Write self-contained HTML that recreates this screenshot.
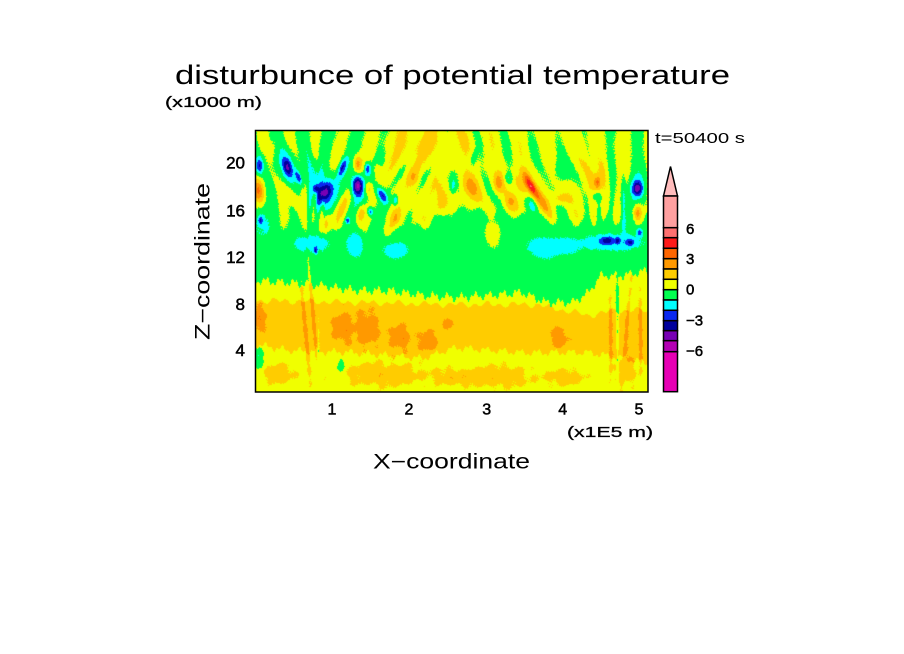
<!DOCTYPE html>
<html><head><meta charset="utf-8">
<style>
html,body{margin:0;padding:0;background:#fff;width:904px;height:654px;overflow:hidden}
#c{position:absolute;left:255px;top:130px;width:393px;height:262px;
background:linear-gradient(to bottom,#f0ff00 0,#f0ff00 90px,#00ff50 90px,#00ff50 155px,#f0ff00 155px,#f0ff00 172px,#ffcc00 172px,#ffcc00 222px,#f0ff00 222px)}
svg{position:absolute;left:0;top:0}
text{font-family:"Liberation Sans",sans-serif;fill:#000}
</style></head><body>
<canvas id="c" width="393" height="262"></canvas>
<svg width="904" height="654" xmlns="http://www.w3.org/2000/svg">
<rect x="255.5" y="130.5" width="392.5" height="261.5" fill="none" stroke="#000" stroke-width="1.5"/>
<text x="452.5" y="84" font-size="27" text-anchor="middle" textLength="555" lengthAdjust="spacingAndGlyphs">disturbunce of potential temperature</text>
<text x="165" y="107" font-size="15" textLength="97" lengthAdjust="spacingAndGlyphs" stroke="#000" stroke-width="0.3">(x1000 m)</text>
<g font-size="17" text-anchor="end" stroke="#000" stroke-width="0.5">
<text x="245" y="168.5">20</text>
<text x="245" y="216.5">16</text>
<text x="245" y="263">12</text>
<text x="245" y="310">8</text>
<text x="245" y="356">4</text>
</g>
<g font-size="16" text-anchor="middle" stroke="#000" stroke-width="0.5">
<text x="332" y="414.5">1</text>
<text x="409" y="414.5">2</text>
<text x="486.7" y="414.5">3</text>
<text x="562.7" y="414.5">4</text>
<text x="639" y="414.5">5</text>
</g>
<text x="567" y="437" font-size="15" textLength="86" lengthAdjust="spacingAndGlyphs" stroke="#000" stroke-width="0.3">(x1E5 m)</text>
<text x="373" y="468.5" font-size="21" textLength="157" lengthAdjust="spacingAndGlyphs">X−coordinate</text>
<text transform="translate(209.5,261.5) rotate(-90)" x="0" y="0" font-size="21" text-anchor="middle" textLength="157" lengthAdjust="spacingAndGlyphs">Z−coordinate</text>
<text x="655" y="143" font-size="14.5" textLength="90" lengthAdjust="spacingAndGlyphs">t=50400 s</text>
<g stroke="#000" stroke-width="1.5">
<polygon points="663.5,196 670.5,166.5 677.5,196" fill="#ffbcbc"/>
<rect x="663.5" y="196" width="14" height="31.7" fill="#ffa0a0"/>
<rect x="663.5" y="227.7" width="14" height="10" fill="#ff7070"/>
<rect x="663.5" y="237.7" width="14" height="10.6" fill="#ff1a1a"/>
<rect x="663.5" y="248.3" width="14" height="10.4" fill="#ff6600"/>
<rect x="663.5" y="258.7" width="14" height="10.3" fill="#ff9900"/>
<rect x="663.5" y="269" width="14" height="10.3" fill="#ffcc00"/>
<rect x="663.5" y="279.3" width="14" height="10.4" fill="#f0ff00"/>
<rect x="663.5" y="289.7" width="14" height="10.3" fill="#00ff50"/>
<rect x="663.5" y="300" width="14" height="10.3" fill="#00ffff"/>
<rect x="663.5" y="310.3" width="14" height="10.4" fill="#0a28f0"/>
<rect x="663.5" y="320.7" width="14" height="10" fill="#00009c"/>
<rect x="663.5" y="330.7" width="14" height="10" fill="#7800b4"/>
<rect x="663.5" y="340.7" width="14" height="11" fill="#b400b4"/>
<rect x="663.5" y="351.7" width="14" height="40" fill="#e600b4"/>
</g>
<g font-size="15" stroke="#000" stroke-width="0.5">
<text x="686" y="234">6</text>
<text x="686" y="264">3</text>
<text x="686" y="294.5">0</text>
<text x="686" y="325.5">−3</text>
<text x="686" y="356">−6</text>
</g>
</svg>
<script>
(function(){
var cv=document.getElementById('c');if(!cv.getContext)return;var ctx=cv.getContext('2d');
var W=393,H=262;
function pl(p,x){for(var i=0;i<p.length-1;i++){if(x<=p[i+1][0]){var t=(x-p[i][0])/(p[i+1][0]-p[i][0]);return p[i][1]+t*(p[i+1][1]-p[i][1]);}}return p[p.length-1][1];}
var E=[[0,150],[33,152],[67,155],[100,160],[133,160],[167,165],[200,167],[233,165],[267,162],[290,172],[317,172],[333,162],[345,145],[367,145],[393,140]];
var T=[[0,170],[100,172],[200,174],[280,174],[300,178],[333,185],[360,180],[393,180]];
var B=[[0,214],[33,220],[100,222],[167,228],[200,217],[267,222],[333,222],[393,232]];
var D=[[0,100],[60,105],[130,108],[170,100],[190,88],[210,85],[240,88],[270,92],[330,97],[360,95],[393,95]];
var K=[[0,0.35],[50,0.2],[70,-0.4],[180,-0.4],[200,0.3],[330,0.4],[360,-0.1],[393,-0.1]];
var U=[[0,-0.05],[125,-0.05],[140,0.45],[210,0.45],[225,0.3],[330,0.3],[360,0.1],[393,0.1]];
var F=[
[170,15,40,18,0,0.7],
// blues
[4,35,4,8,0,-2.8],[32,37,4,9,-15,-2.8],[43,47,2.5,7,-20,-2.6],[60,58,3,4,0,-2.5],[70,62,6,11,25,-3.6],
[87,37,3,10,20,-2.8],[102,55,5,9,0,-4.5],[112,38,3,6,0,-2.6],[127,65,4,9,-30,-3.0],[115,81,3,4,0,-2.5],
[140,70,2.5,5,0,-2.4],[5,90,2.5,4,0,-2.4],[92,90,2,3,0,-2.2],[60,120,2,3,0,-2.2],
[382,58,5,7,0,-3.4],[351,110,6,4,0,-2.2],[362,110,2.5,3,0,-2.0],[375,112,4,3,0,-2.0],[384,102,3,4,0,-2.2],
// cyan
[8,90,7,16,0,-1.3],[32,35,12,22,-15,-1.2],[60,45,8,20,-10,-1.1],[70,62,14,22,25,-1.0],[102,58,11,18,0,-1.0],
[58,113,20,8,0,-1.2],[100,115,8,14,0,-1.2],[140,120,14,8,0,-1.15],[218,28,3,8,10,-1.2],
[198,55,3,8,0,-1.2],[253,48,4,6,0,-1.3],[277,75,4,8,-20,-1.2],[305,40,7,12,-20,-1.3],[293,117,25,10,0,-1.25],
[341,66,6,5,0,-1.2],[358,112,35,8,0,-1.2],[368,70,2.5,30,0,-1.3],[382,60,12,20,0,-1.0],
// warm upper
[3,60,6,12,0,2.6],[38,68,5,15,-25,1.6],[70,93,4,10,10,1.5],[88,75,5,25,20,1.0],[102,33,4,8,0,2.3],
[113,58,4,7,0,1.7],[105,83,4,8,10,1.6],[122,40,4,8,0,1.3],[158,47,5,8,0,1.2],[140,87,4,8,20,1.2],
[215,57,8,12,-20,1.8],[243,52,5,10,0,2.0],[265,55,5,12,-25,1.8],[275,55,4,14,-28,4.4],[255,72,6,8,0,1.4],
[288,73,4,14,-25,1.6],[305,68,10,6,0,1.3],[340,47,8,20,-10,1.3],[342,52,3,6,0,2.4],[382,82,4,8,0,2.5],
[237,103,8,13,0,1.2],[190,70,8,12,20,0.9],[20,15,5,12,0,0.8],
// gold band orange
[3,188,8,12,0,1.3],[87,197,10,15,0,1.3],[112,198,12,17,0,1.3],[145,207,10,12,0,1.3],[173,211,9,10,0,1.3],
[193,193,5,6,0,1.2],[303,207,9,10,0,1.3],
// bottom gold
[23,243,16,10,0,1.2],[128,244,42,12,0,1.2],[200,247,20,8,0,1.1],[245,246,30,11,0,1.2],[310,247,20,8,0,1.1],[370,240,12,16,0,1.0],
// green spots
[3,228,6,10,0,-1.4],[85,236,4,9,0,-1.4],
// streaks
[50,200,2,50,-5,1.0],[58,190,2,60,-5,1.2],[63,215,1.5,40,0,-0.8],
[362,200,1.5,60,0,-1.3],[372,190,2,60,5,0.9],[355,210,2,45,0,0.9],[385,200,2,50,0,0.9]
];
var fs=F.map(function(f){var a=f[4]*Math.PI/180;var m=Math.max(f[2],f[3])*3.2;return {x:f[0],y:f[1],rx2:f[2]*f[2],ry2:f[3]*f[3],c:Math.cos(a),s:Math.sin(a),A:f[5],m:m};});
var th=[-6,-5,-4,-3,-2,-1,0,1,2,3,4,5,6];
var cc=[[230,0,180],[180,0,180],[120,0,180],[0,0,156],[10,40,240],[0,255,255],[0,255,80],[240,255,0],[255,204,0],[255,153,0],[255,102,0],[255,26,26],[255,112,112],[255,160,160]];
var img=ctx.createImageData(W,H),d=img.data,TP=2*Math.PI;
for(var x=0;x<W;x++){
 var e=pl(E,x)+3*Math.sin(x*0.45)+2*Math.sin(x*1.3+1);
 var t=pl(T,x)+2*Math.sin(x*0.5+2)+1.5*Math.sin(x*0.21);
 var b=pl(B,x)+2.5*Math.sin(x*0.37+1)+1.5*Math.sin(x*1.1);
 var dd=pl(D,x)+4*Math.sin(x*0.3);
 var k=pl(K,x),u0=pl(U,x);
 for(var y=0;y<H;y++){
  var v;
  if(y<e){
   var w=(dd-y)/12;if(w<0)w=0;if(w>1)w=1;
   var st=Math.sin(TP*(x-k*y)/28+0.6*Math.sin(y*0.07+x*0.02));
   var mm=0.75+0.3*Math.sin(y*0.12-x*0.03+1);
   v=-0.5+w*(u0+0.5)+(0.15+0.5*w)*st*mm;
  } else {
   v=(y<t?0.5:(y<b?1.5:0.5));
   v+=0.3*Math.sin(x*0.3+y*0.2)*Math.sin(y*0.25-x*0.15);
  }
  for(var q=0;q<fs.length;q++){var f=fs[q];var dx=x-f.x,dy=y-f.y;
   if(dx>f.m||dx<-f.m||dy>f.m||dy<-f.m)continue;
   var uu=dx*f.c+dy*f.s,ww=-dx*f.s+dy*f.c;var r2=uu*uu/f.rx2+ww*ww/f.ry2;
   if(r2<9)v+=f.A*Math.exp(-r2);}
  v+=0.12*Math.sin(x*0.8+y*1.7)*Math.cos(x*1.9-y*0.6);
  var i=0;while(i<th.length&&v>=th[i])i++;
  var col=cc[i],p=(y*W+x)*4;d[p]=col[0];d[p+1]=col[1];d[p+2]=col[2];d[p+3]=255;
 }
}
ctx.putImageData(img,0,0);
})();
</script>
</body></html>
